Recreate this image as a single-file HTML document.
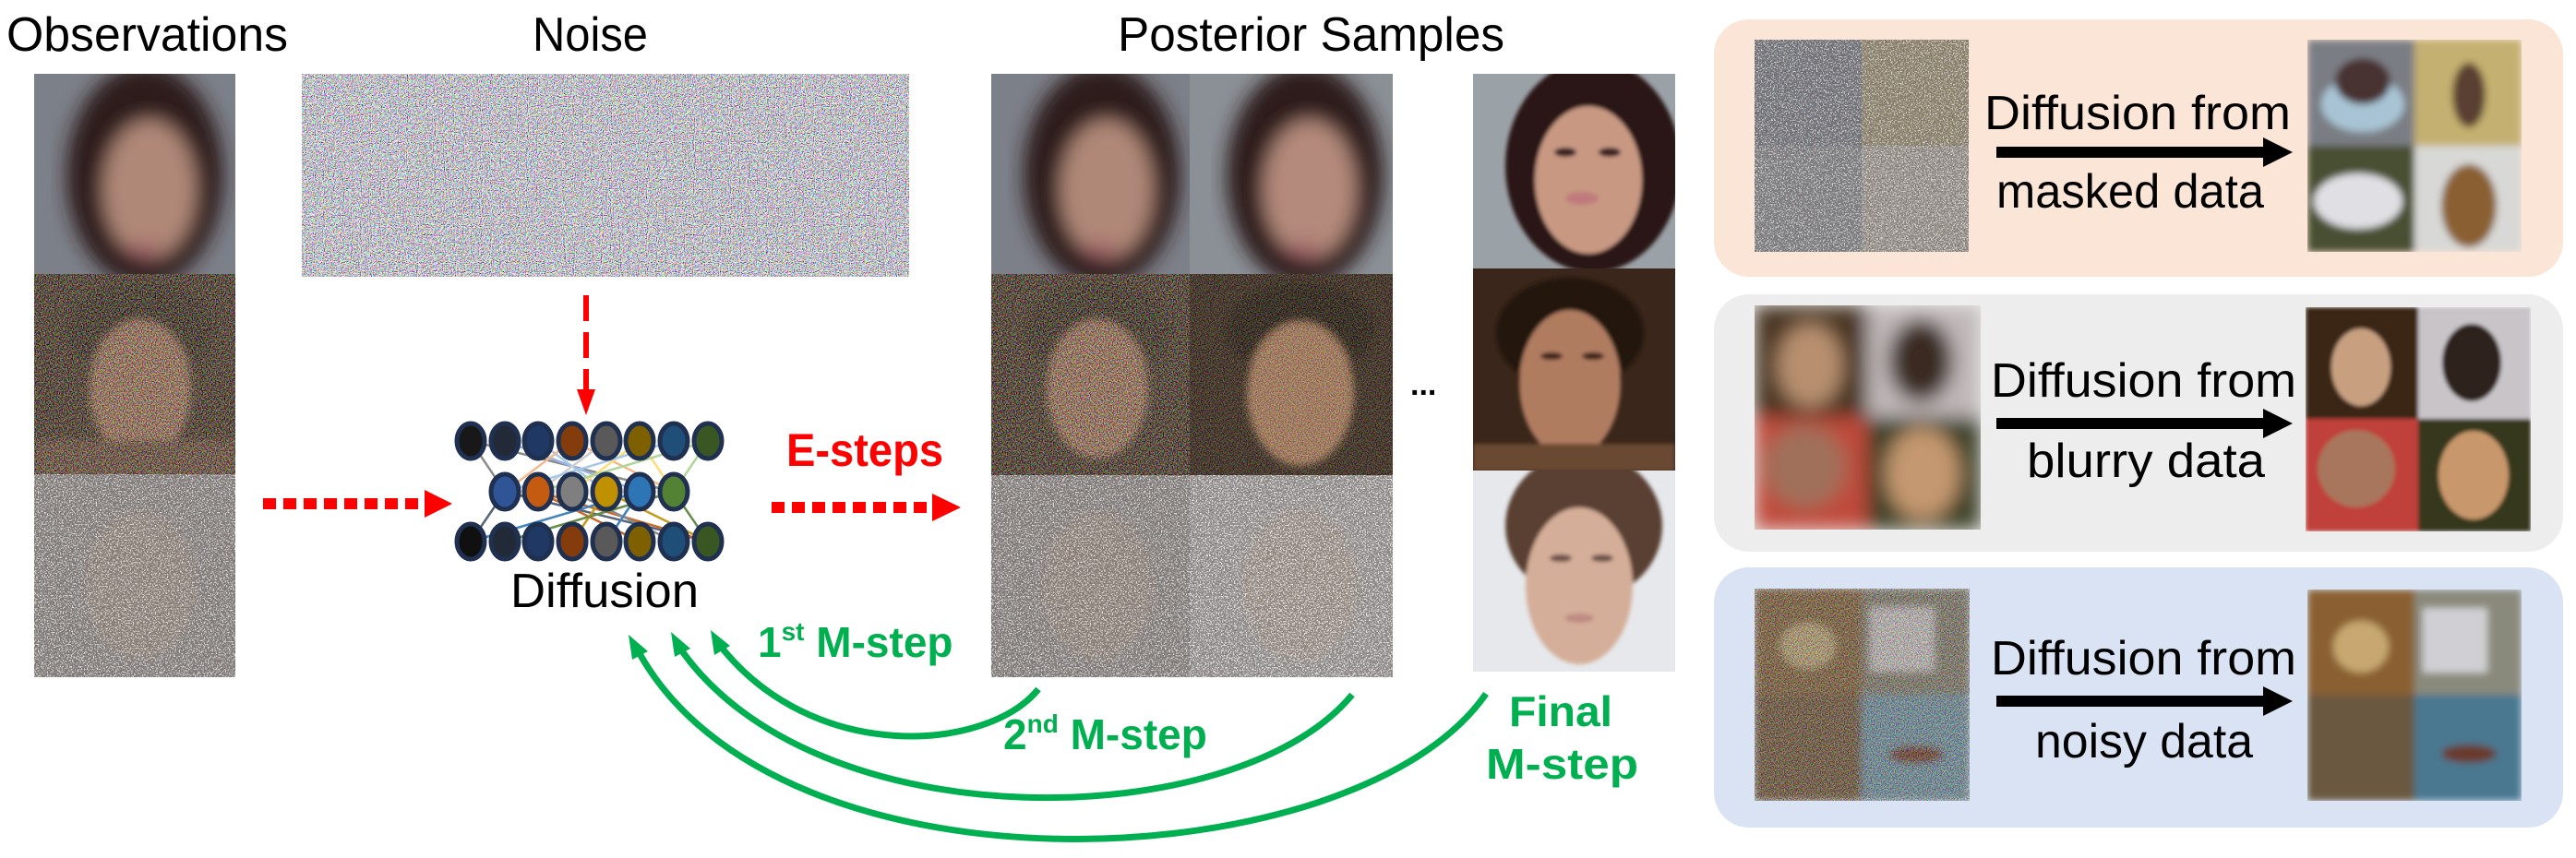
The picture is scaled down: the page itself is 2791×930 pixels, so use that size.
<!DOCTYPE html>
<html><head><meta charset="utf-8"><style>
html,body{margin:0;padding:0;background:#fff;}
svg{display:block;}
text{font-family:"Liberation Sans",sans-serif;}
</style></head><body>
<svg width="2791" height="930" viewBox="0 0 2791 930" xmlns="http://www.w3.org/2000/svg">
<defs>
<filter id="noise" x="0" y="0" width="100%" height="100%">
 <feTurbulence type="fractalNoise" baseFrequency="0.9" numOctaves="1" seed="3" result="t"/>
 <feColorMatrix in="t" type="matrix" values="7 0 0 0 -2.7  0 7 0 0 -2.7  0 0 7 0 -2.6  0 0 0 0 1"/>
</filter>
<filter id="speck" x="0" y="0" width="100%" height="100%">
 <feTurbulence type="fractalNoise" baseFrequency="0.7" numOctaves="1" seed="7" result="t"/>
 <feColorMatrix in="t" type="matrix" values="0 0 0 0 0.9  0 0 0 0 0.9  0 0 0 0 0.9  14 0 0 0 -7.2"/>
</filter>
<filter id="speckd" x="0" y="0" width="100%" height="100%">
 <feTurbulence type="fractalNoise" baseFrequency="0.7" numOctaves="1" seed="11" result="t"/>
 <feColorMatrix in="t" type="matrix" values="0 0 0 0 0.2  0 0 0 0 0.15  0 0 0 0 0.15  0 14 0 0 -7.4"/>
</filter>
<filter id="cnoise" x="0" y="0" width="100%" height="100%">
 <feTurbulence type="fractalNoise" baseFrequency="0.8" numOctaves="1" seed="5" result="t"/>
 <feColorMatrix in="t" type="matrix" values="6 0 0 0 -2.6  0 6 0 0 -2.7  0 0 6 0 -2.8  0 0 0 0 0.5"/>
</filter>
<filter id="b12"><feGaussianBlur stdDeviation="10"/></filter>
<filter id="b4"><feGaussianBlur stdDeviation="4"/></filter>
<filter id="b2"><feGaussianBlur stdDeviation="2"/></filter>
</defs>

<text x="7" y="55" font-size="52" textLength="305" lengthAdjust="spacingAndGlyphs">Observations</text>
<text x="577" y="55" font-size="52" textLength="125" lengthAdjust="spacingAndGlyphs">Noise</text>
<text x="1211" y="55" font-size="52" textLength="419" lengthAdjust="spacingAndGlyphs">Posterior Samples</text>

<!-- Observations -->
<svg x="37" y="80" width="218" height="217">
 <rect width="218" height="217" fill="#7c8088"/>
 <g filter="url(#b12)">
  <ellipse cx="120" cy="110" rx="85" ry="120" fill="#2e1a1a"/>
  <ellipse cx="125" cy="125" rx="50" ry="75" fill="#b08878"/>
  <ellipse cx="118" cy="190" rx="18" ry="8" fill="#a06068"/>
 </g>
</svg>
<svg x="37" y="297" width="218" height="217">
 <rect width="218" height="217" fill="#2e2218"/>
 <g filter="url(#b4)">
  <ellipse cx="115" cy="60" rx="80" ry="50" fill="#1e140e"/>
  <ellipse cx="115" cy="125" rx="55" ry="75" fill="#9a7058"/>
  <rect x="0" y="180" width="218" height="40" fill="#5a4030"/>
 </g>
 <rect width="218" height="217" filter="url(#cnoise)"/>
</svg>
<svg x="37" y="514" width="218" height="220">
 <rect width="218" height="220" fill="#7e7b78"/>
 <ellipse cx="115" cy="120" rx="60" ry="80" fill="#8a7f74" filter="url(#b4)"/>
 <rect width="218" height="220" filter="url(#speck)" opacity="0.8"/>
 <rect width="218" height="220" filter="url(#speckd)" opacity="0.6"/>
</svg>

<!-- Noise -->
<svg x="327" y="80" width="658" height="220">
 <rect width="658" height="220" fill="#c8c4c8"/>
 <rect width="658" height="220" filter="url(#noise)" opacity="0.8"/>
</svg>

<line x1="635" y1="320" x2="635" y2="425" stroke="#ff0000" stroke-width="6" stroke-dasharray="28 12"/>
<polygon points="625,422 645,422 635,450" fill="#ff0000"/>

<!-- network -->
<g stroke-width="2.5" opacity="0.9">
 <line x1="510" y1="478" x2="547" y2="533" stroke="#7f7f7f"/>
 <line x1="510" y1="478" x2="730" y2="533" stroke="#7f7f7f"/>
 <line x1="547" y1="478" x2="693" y2="533" stroke="#8faadc"/>
 <line x1="583" y1="478" x2="657" y2="533" stroke="#9dc3e6"/>
 <line x1="620" y1="478" x2="547" y2="533" stroke="#f4b183"/>
 <line x1="620" y1="478" x2="730" y2="533" stroke="#f4b183"/>
 <line x1="657" y1="478" x2="583" y2="533" stroke="#c9c9c9"/>
 <line x1="693" y1="478" x2="620" y2="533" stroke="#ffd966"/>
 <line x1="693" y1="478" x2="730" y2="533" stroke="#ffd966"/>
 <line x1="730" y1="478" x2="547" y2="533" stroke="#9dc3e6"/>
 <line x1="767" y1="478" x2="583" y2="533" stroke="#a9d18e"/>
 <line x1="767" y1="478" x2="730" y2="533" stroke="#a9d18e"/>
 <line x1="547" y1="533" x2="510" y2="587" stroke="#44546a"/>
 <line x1="547" y1="533" x2="767" y2="587" stroke="#44546a"/>
 <line x1="583" y1="533" x2="693" y2="587" stroke="#c55a11"/>
 <line x1="583" y1="533" x2="767" y2="587" stroke="#c55a11"/>
 <line x1="620" y1="533" x2="730" y2="587" stroke="#7f7f7f"/>
 <line x1="657" y1="533" x2="620" y2="587" stroke="#bf9000"/>
 <line x1="657" y1="533" x2="767" y2="587" stroke="#bf9000"/>
 <line x1="693" y1="533" x2="510" y2="587" stroke="#2e75b6"/>
 <line x1="693" y1="533" x2="657" y2="587" stroke="#2e75b6"/>
 <line x1="730" y1="533" x2="547" y2="587" stroke="#548235"/>
 <line x1="730" y1="533" x2="767" y2="587" stroke="#548235"/>
</g>
<g stroke="#1f3050" stroke-width="5">
 <ellipse cx="510" cy="478" rx="15" ry="19" fill="#181818"/>
 <ellipse cx="547" cy="478" rx="15" ry="19" fill="#222a38"/>
 <ellipse cx="583" cy="478" rx="15" ry="19" fill="#1f3864"/>
 <ellipse cx="620" cy="478" rx="15" ry="19" fill="#843c0c"/>
 <ellipse cx="657" cy="478" rx="15" ry="19" fill="#595959"/>
 <ellipse cx="693" cy="478" rx="15" ry="19" fill="#7f6000"/>
 <ellipse cx="730" cy="478" rx="15" ry="19" fill="#1f4e79"/>
 <ellipse cx="767" cy="478" rx="15" ry="19" fill="#385723"/>
 <ellipse cx="547" cy="533" rx="15" ry="19" fill="#2f5597"/>
 <ellipse cx="583" cy="533" rx="15" ry="19" fill="#c55a11"/>
 <ellipse cx="620" cy="533" rx="15" ry="19" fill="#7f7f7f"/>
 <ellipse cx="657" cy="533" rx="15" ry="19" fill="#bf9000"/>
 <ellipse cx="693" cy="533" rx="15" ry="19" fill="#2e75b6"/>
 <ellipse cx="730" cy="533" rx="15" ry="19" fill="#548235"/>
 <ellipse cx="510" cy="587" rx="15" ry="19" fill="#101010"/>
 <ellipse cx="547" cy="587" rx="15" ry="19" fill="#222a38"/>
 <ellipse cx="583" cy="587" rx="15" ry="19" fill="#1f3864"/>
 <ellipse cx="620" cy="587" rx="15" ry="19" fill="#843c0c"/>
 <ellipse cx="657" cy="587" rx="15" ry="19" fill="#595959"/>
 <ellipse cx="693" cy="587" rx="15" ry="19" fill="#7f6000"/>
 <ellipse cx="730" cy="587" rx="15" ry="19" fill="#1f4e79"/>
 <ellipse cx="767" cy="587" rx="15" ry="19" fill="#385723"/>
</g>
<text x="553" y="658" font-size="52" textLength="204" lengthAdjust="spacingAndGlyphs">Diffusion</text>

<line x1="285" y1="546" x2="462" y2="546" stroke="#ff0000" stroke-width="12" stroke-dasharray="14 8"/>
<polygon points="460,531 490,546 460,561" fill="#ff0000"/>
<line x1="836" y1="550" x2="1012" y2="550" stroke="#ff0000" stroke-width="12" stroke-dasharray="14 8"/>
<polygon points="1010,535 1041,550 1010,565" fill="#ff0000"/>
<text x="852" y="505" font-size="50" font-weight="bold" fill="#ff0000" textLength="170" lengthAdjust="spacingAndGlyphs">E-steps</text>

<!-- Posterior -->
<svg x="1074" y="80" width="215" height="217">
 <rect width="215" height="217" fill="#7c8088"/>
 <g filter="url(#b12)">
  <ellipse cx="120" cy="110" rx="85" ry="120" fill="#2e1a1a"/>
  <ellipse cx="125" cy="125" rx="50" ry="75" fill="#b08878"/>
  <ellipse cx="118" cy="190" rx="18" ry="8" fill="#a06068"/>
 </g>
</svg>
<svg x="1289" y="80" width="220" height="217">
 <rect width="220" height="217" fill="#8a9096"/>
 <g filter="url(#b12)">
  <ellipse cx="125" cy="110" rx="85" ry="120" fill="#2e1a1a"/>
  <ellipse cx="130" cy="125" rx="50" ry="75" fill="#b48a7c"/>
  <ellipse cx="123" cy="190" rx="18" ry="8" fill="#a06068"/>
 </g>
</svg>
<svg x="1074" y="297" width="215" height="218">
 <rect width="215" height="218" fill="#2e2218"/>
 <g filter="url(#b4)">
  <ellipse cx="115" cy="60" rx="80" ry="50" fill="#1e140e"/>
  <ellipse cx="115" cy="125" rx="55" ry="75" fill="#9a7058"/>
 </g>
 <rect width="215" height="218" filter="url(#cnoise)"/>
</svg>
<svg x="1289" y="297" width="220" height="218">
 <rect width="220" height="218" fill="#2e2218"/>
 <g filter="url(#b4)">
  <ellipse cx="120" cy="60" rx="80" ry="50" fill="#1c120c"/>
  <ellipse cx="120" cy="130" rx="58" ry="78" fill="#a87c5c"/>
 </g>
 <rect width="220" height="218" filter="url(#cnoise)" opacity="0.6"/>
</svg>
<svg x="1074" y="515" width="215" height="219">
 <rect width="215" height="219" fill="#7e7b78"/>
 <ellipse cx="115" cy="120" rx="60" ry="80" fill="#8a7f74" filter="url(#b4)"/>
 <rect width="215" height="219" filter="url(#speck)" opacity="0.8"/>
 <rect width="215" height="219" filter="url(#speckd)" opacity="0.6"/>
</svg>
<svg x="1289" y="515" width="220" height="219">
 <rect width="220" height="219" fill="#8e8c8a"/>
 <ellipse cx="120" cy="120" rx="62" ry="82" fill="#958a80" filter="url(#b4)"/>
 <rect width="220" height="219" filter="url(#speck)" opacity="0.9"/>
 <rect width="220" height="219" filter="url(#speckd)" opacity="0.5"/>
</svg>
<text x="1528" y="428" font-size="34" font-weight="bold">...</text>

<!-- Final -->
<svg x="1596" y="80" width="219" height="211">
 <rect width="219" height="211" fill="#9aa2a8"/>
 <g filter="url(#b2)">
  <ellipse cx="130" cy="100" rx="95" ry="115" fill="#2a1814"/>
  <ellipse cx="125" cy="115" rx="58" ry="80" fill="#c89882"/>
  <ellipse cx="100" cy="85" rx="12" ry="5" fill="#3a2420"/>
  <ellipse cx="148" cy="85" rx="12" ry="5" fill="#3a2420"/>
  <ellipse cx="118" cy="135" rx="18" ry="7" fill="#c07a7c"/>
 </g>
</svg>
<svg x="1596" y="291" width="219" height="219">
 <rect width="219" height="219" fill="#3a261a"/>
 <g filter="url(#b2)">
  <ellipse cx="105" cy="70" rx="80" ry="60" fill="#20140e"/>
  <ellipse cx="105" cy="125" rx="55" ry="80" fill="#b07c60"/>
  <rect x="0" y="190" width="219" height="30" fill="#6a4a32"/>
  <ellipse cx="85" cy="95" rx="12" ry="4" fill="#3a2418"/>
  <ellipse cx="130" cy="95" rx="12" ry="4" fill="#3a2418"/>
 </g>
</svg>
<svg x="1596" y="510" width="219" height="218">
 <rect width="219" height="218" fill="#e6e8ec"/>
 <g filter="url(#b2)">
  <ellipse cx="120" cy="60" rx="85" ry="80" fill="#5a4030"/>
  <ellipse cx="115" cy="125" rx="58" ry="85" fill="#d4ae98"/>
  <ellipse cx="95" cy="95" rx="12" ry="4" fill="#6a5048"/>
  <ellipse cx="140" cy="95" rx="12" ry="4" fill="#6a5048"/>
  <ellipse cx="115" cy="160" rx="16" ry="5" fill="#c08a84"/>
 </g>
</svg>

<!-- green arrows -->
<g fill="none" stroke="#00b050" stroke-width="7">
 <path d="M1125,747 C1070,815 880,830 778,697"/>
 <path d="M1465,753 C1340,905 880,915 735,700"/>
 <path d="M1610,752 C1470,955 840,985 690,703"/>
</g>
<g fill="#00b050">
 <polygon points="770,683 791,700 774,710"/>
 <polygon points="727,685 748,703 731,712"/>
 <polygon points="681,688 702,706 685,715"/>
</g>
<text x="821" y="712" font-size="46" font-weight="bold" fill="#00b050">1<tspan font-size="28" dy="-18">st</tspan><tspan dy="18"> M-step</tspan></text>
<text x="1087" y="812" font-size="46" font-weight="bold" fill="#00b050">2<tspan font-size="28" dy="-18">nd</tspan><tspan dy="18"> M-step</tspan></text>
<text x="1635" y="787" font-size="46" font-weight="bold" fill="#00b050" textLength="112" lengthAdjust="spacingAndGlyphs">Final</text>
<text x="1610" y="844" font-size="46" font-weight="bold" fill="#00b050" textLength="165" lengthAdjust="spacingAndGlyphs">M-step</text>

<!-- right panels -->
<rect x="1857" y="21" width="920" height="279" rx="38" fill="#fbe5d6"/>
<rect x="1857" y="319" width="920" height="279" rx="38" fill="#ededed"/>
<rect x="1857" y="615" width="920" height="282" rx="38" fill="#dae3f3"/>

<svg x="1901" y="43" width="232" height="230">
 <rect width="116" height="115" fill="#6a7078"/>
 <rect x="116" width="116" height="115" fill="#8c8468"/>
 <rect y="115" width="116" height="115" fill="#7a7e82"/>
 <rect x="116" y="115" width="116" height="115" fill="#98948c"/>
 <rect width="232" height="230" filter="url(#speck)" opacity="0.7"/>
 <rect width="232" height="230" filter="url(#speckd)" opacity="0.8"/>
</svg>
<svg x="2500" y="43" width="232" height="230">
 <g filter="url(#b4)">
 <rect width="116" height="115" fill="#7a7e84"/>
 <ellipse cx="60" cy="70" rx="45" ry="30" fill="#a8c4d4"/>
 <ellipse cx="60" cy="45" rx="30" ry="25" fill="#4a3030"/>
 <rect x="116" width="116" height="115" fill="#c4b070"/>
 <ellipse cx="175" cy="60" rx="18" ry="35" fill="#5a4030"/>
 <rect y="115" width="116" height="115" fill="#4a5030"/>
 <ellipse cx="55" cy="175" rx="48" ry="30" fill="#e0e0e4"/>
 <rect x="116" y="115" width="116" height="115" fill="#d8d8d6"/>
 <ellipse cx="175" cy="180" rx="30" ry="45" fill="#8a6030"/>
 </g>
</svg>
<svg x="1901" y="331" width="245" height="243">
 <g filter="url(#b12)">
 <rect width="122" height="121" fill="#4a3420"/>
 <ellipse cx="60" cy="65" rx="35" ry="45" fill="#b89070"/>
 <rect x="122" width="123" height="121" fill="#c0b8b8"/>
 <ellipse cx="180" cy="60" rx="35" ry="45" fill="#3a2a24"/>
 <rect y="121" width="122" height="122" fill="#c0483a"/>
 <ellipse cx="55" cy="175" rx="45" ry="45" fill="#a0705a"/>
 <rect x="122" y="121" width="123" height="122" fill="#3a4028"/>
 <ellipse cx="182" cy="182" rx="40" ry="50" fill="#c49870"/>
 </g>
</svg>
<svg x="2498" y="333" width="244" height="243">
 <g filter="url(#b2)">
 <rect width="122" height="121" fill="#3a2818"/>
 <ellipse cx="60" cy="65" rx="32" ry="42" fill="#c8a080"/>
 <rect x="122" width="122" height="121" fill="#c8c4c8"/>
 <ellipse cx="180" cy="60" rx="32" ry="42" fill="#2e221e"/>
 <rect y="121" width="122" height="122" fill="#c0403a"/>
 <ellipse cx="55" cy="175" rx="42" ry="42" fill="#a8765c"/>
 <rect x="122" y="121" width="122" height="122" fill="#34381e"/>
 <ellipse cx="182" cy="182" rx="38" ry="48" fill="#c8986c"/>
 </g>
</svg>
<svg x="1901" y="638" width="233" height="230">
 <g filter="url(#b4)">
 <rect width="116" height="115" fill="#7a6040"/>
 <ellipse cx="58" cy="62" rx="30" ry="25" fill="#b0a078"/>
 <rect x="116" width="117" height="115" fill="#7a7a70"/>
 <rect x="125" y="20" width="70" height="70" fill="#c0c0c4"/>
 <rect y="115" width="116" height="115" fill="#6a5640"/>
 <rect x="116" y="115" width="117" height="115" fill="#6a90a4"/>
 <ellipse cx="175" cy="180" rx="30" ry="10" fill="#6a3a2a"/>
 </g>
 <rect width="233" height="230" filter="url(#cnoise)" opacity="0.7"/>
</svg>
<svg x="2500" y="639" width="232" height="229">
 <g filter="url(#b4)">
 <rect width="116" height="114" fill="#8a6030"/>
 <ellipse cx="58" cy="62" rx="30" ry="28" fill="#c8a870"/>
 <rect x="116" width="116" height="114" fill="#8a8a7c"/>
 <rect x="125" y="20" width="70" height="70" fill="#d0d0d4"/>
 <rect y="114" width="116" height="115" fill="#6a5840"/>
 <rect x="116" y="114" width="116" height="115" fill="#4a7890"/>
 <ellipse cx="175" cy="178" rx="30" ry="10" fill="#6a3a2a"/>
 </g>
</svg>

<g font-size="52">
 <text x="2150" y="140" textLength="332" lengthAdjust="spacingAndGlyphs">Diffusion from</text>
 <text x="2163" y="225" textLength="290" lengthAdjust="spacingAndGlyphs">masked data</text>
 <text x="2157" y="430" textLength="331" lengthAdjust="spacingAndGlyphs">Diffusion from</text>
 <text x="2196" y="517" textLength="258" lengthAdjust="spacingAndGlyphs">blurry data</text>
 <text x="2157" y="731" textLength="331" lengthAdjust="spacingAndGlyphs">Diffusion from</text>
 <text x="2205" y="821" textLength="236" lengthAdjust="spacingAndGlyphs">noisy data</text>
</g>
<g fill="#000">
 <rect x="2163" y="159" width="292" height="12"/>
 <polygon points="2452,149 2484,165 2452,181"/>
 <rect x="2163" y="453" width="292" height="12"/>
 <polygon points="2452,443 2484,459 2452,475"/>
 <rect x="2163" y="754" width="292" height="12"/>
 <polygon points="2452,744 2484,760 2452,776"/>
</g>
</svg>
</body></html>
